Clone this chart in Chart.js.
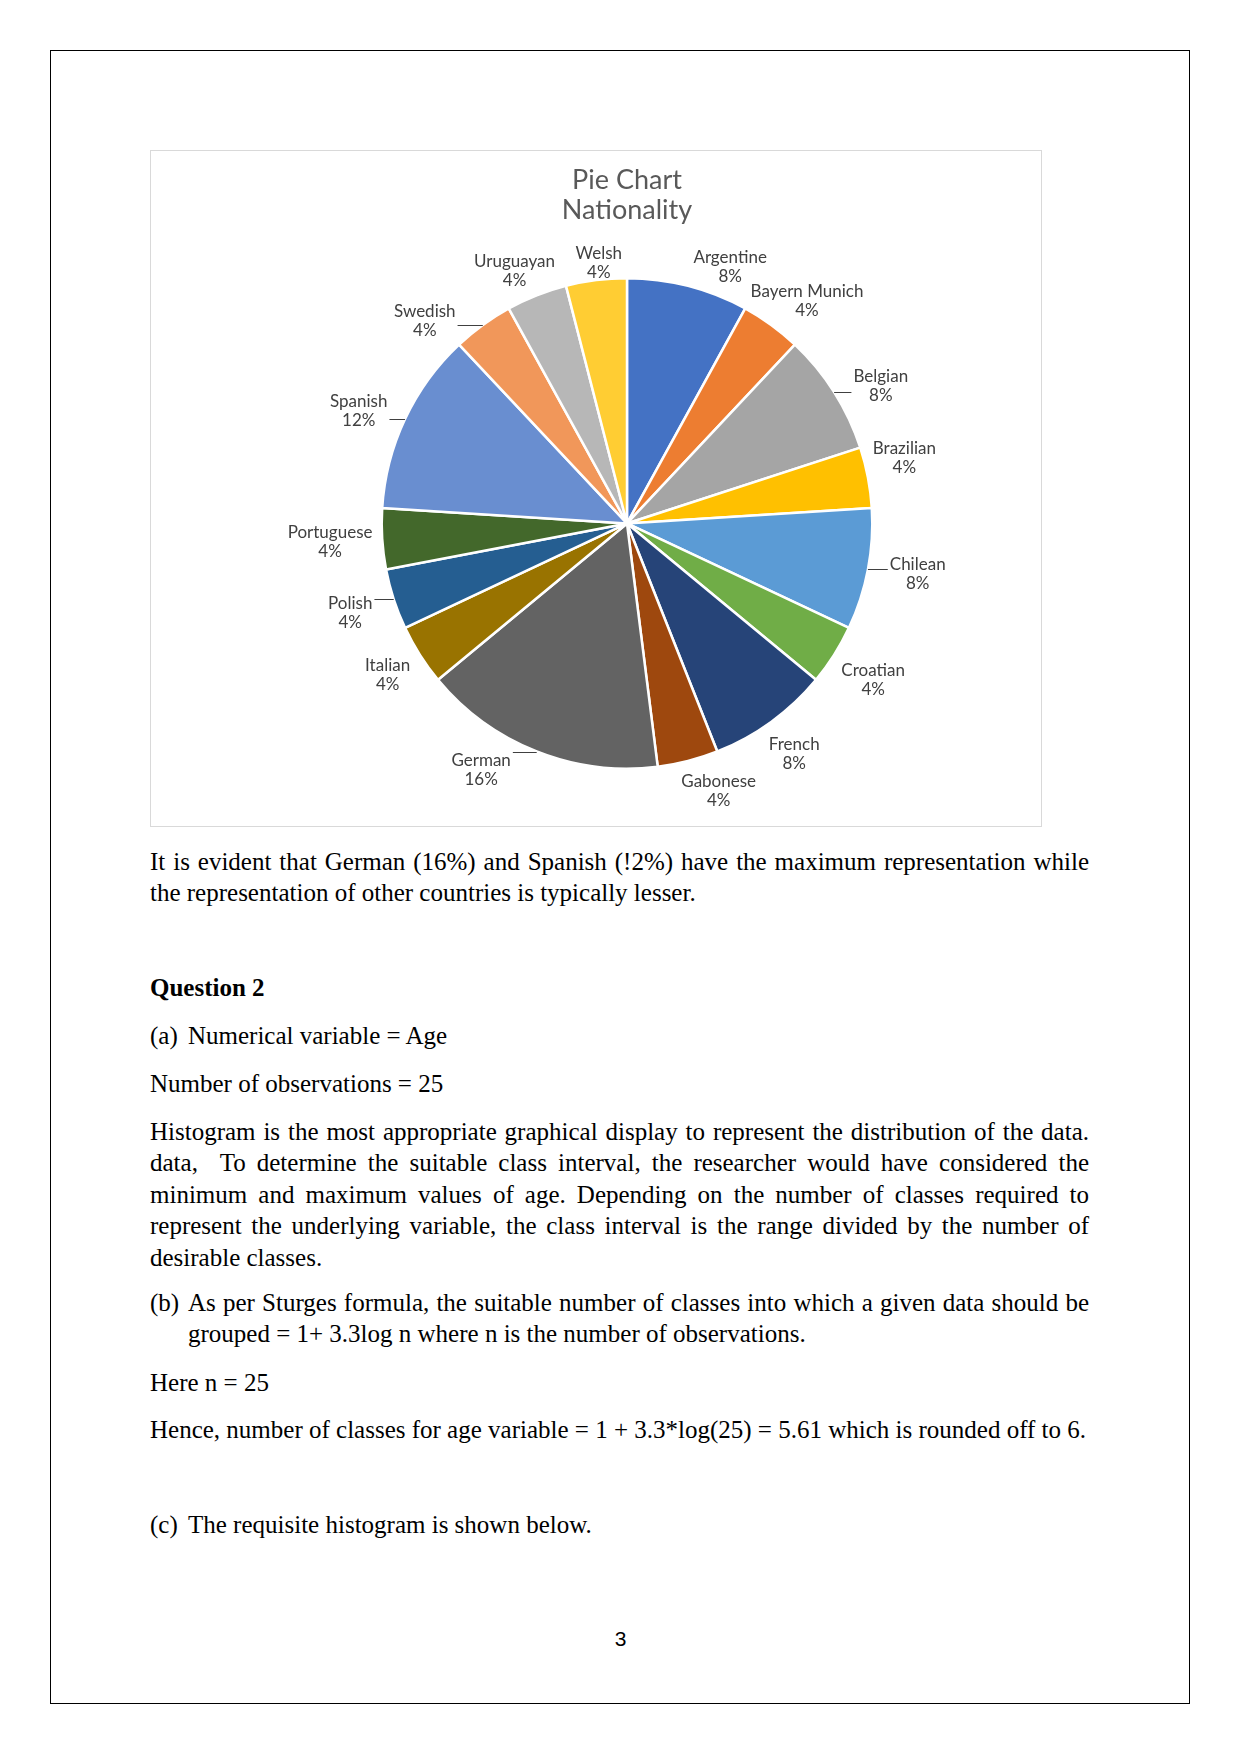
<!DOCTYPE html>
<html>
<head>
<meta charset="utf-8">
<script src="https://cdn.jsdelivr.net/npm/chart.js@4/dist/chart.umd.min.js"></script>
<style>
html, body { margin: 0; padding: 0; background: #fff; }
body { width: 1241px; height: 1754px; position: relative; overflow: hidden;
       font-family: "Liberation Serif", "Times New Roman", serif; font-size: 25px; color: #000; }
.page { position: absolute; left: 50px; top: 50px; width: 1138px; height: 1652px; border: 1px solid #000; }
.chartbox { position: absolute; left: 150px; top: 150px; width: 890px; height: 675px; border: 1px solid #d9d9d9; }
.p { position: absolute; left: 150px; width: 939px; line-height: 31.4px; white-space: nowrap; }
.j { text-align: justify; text-align-last: justify; white-space: normal; }
.ind { position: absolute; left: 188px; width: 901px; line-height: 31.4px; white-space: nowrap; }
.num { position: absolute; left: 0; width: 1241px; top: 1627px; text-align: center;
       font-family: "Liberation Sans", Arial, sans-serif; font-size: 21px; }
</style>
</head>
<body>
<div class="page"></div>
<div class="chartbox"><canvas id="pieChart" width="890" height="675"></canvas></div>

<div class="p" style="top:846px">
  <div class="j">It is evident that German (16%) and Spanish (!2%) have the maximum representation while</div>
  <div>the representation of other countries is typically lesser.</div>
</div>

<div class="p" style="top:972px"><b>Question 2</b></div>

<div class="p" style="top:1020px">(a)</div>
<div class="ind" style="top:1020px">Numerical variable = Age</div>

<div class="p" style="top:1068px">Number of observations = 25</div>

<div class="p" style="top:1116px">
  <div class="j">Histogram is the most appropriate graphical display to represent the distribution of the data.</div>
  <div class="j">data,&nbsp; To determine the suitable class interval, the researcher would have considered the</div>
  <div class="j">minimum and maximum values of age. Depending on the number of classes required to</div>
  <div class="j">represent the underlying variable, the class interval is the range divided by the number of</div>
  <div>desirable classes.</div>
</div>

<div class="p" style="top:1287px">(b)</div>
<div class="ind" style="top:1287px">
  <div class="j">As per Sturges formula, the suitable number of classes into which a given data should be</div>
  <div>grouped = 1+ 3.3log n where n is the number of observations.</div>
</div>

<div class="p" style="top:1367px">Here n = 25</div>

<div class="p" style="top:1414px">Hence, number of classes for age variable = 1 + 3.3*log(25) = 5.61 which is rounded off to 6.</div>

<div class="p" style="top:1509px">(c)</div>
<div class="ind" style="top:1509px">The requisite histogram is shown below.</div>

<div class="num">3</div>

<script>
// respondents per nationality (n = 25), clockwise from 12 o'clock
const nationalities = ['Argentine', 'Bayern Munich', 'Belgian', 'Brazilian', 'Chilean', 'Croatian',
                       'French', 'Gabonese', 'German', 'Italian', 'Polish', 'Portuguese',
                       'Spanish', 'Swedish', 'Uruguayan', 'Welsh'];
const counts = [2, 1, 2, 1, 2, 1, 2, 1, 4, 1, 1, 1, 3, 1, 1, 1];

const sliceColors = ['#4472C4', '#ED7D31', '#A5A5A5', '#FFC000', '#5B9BD5', '#70AD47',
                     '#264478', '#9E480E', '#636363', '#997300', '#255E91', '#43682B',
                     '#698ED0', '#F1975A', '#B7B7B7', '#FFCD33'];

// labels that excel pulled away and tied back with a leader line
const leaderLabels = ['Belgian', 'Chilean', 'German', 'Polish', 'Spanish', 'Swedish'];
// small angle nudges (degrees) for labels excel moved off the slice middle
const labelShift = { 'Argentine': 7.5, 'Bayern Munich': 3, 'Belgian': 4, 'Brazilian': -2.5,
                     'Chilean': -1, 'Gabonese': -4.5, 'German': 9, 'Spanish': -2.4,
                     'Swedish': -9, 'Uruguayan': -2.4, 'Welsh': 1 };
// clearance between rim and text where excel deviates from its usual spacing
const labelGap = { 'Welsh': -4, 'German': 10 };

const labelFont = '17px Lato';
const lineH = 19;

// distance from the pie centre to the nearest of the two text rows
function clearance(px, py, cx, cy, hwName, hwPct) {
    const boxes = [
        [cx - hwName, cx + hwName, cy - lineH, cy],
        [cx - hwPct, cx + hwPct, cy, cy + lineH]
    ];
    let best = Infinity;
    boxes.forEach(([x0, x1, y0, y1]) => {
        const qx = Math.min(Math.max(px, x0), x1);
        const qy = Math.min(Math.max(py, y0), y1);
        best = Math.min(best, Math.hypot(qx - px, qy - py));
    });
    return best;
}

const pieLabels = {
    id: 'pieLabels',
    afterDatasetsDraw(chart) {
        const ctx = chart.ctx;
        const meta = chart.getDatasetMeta(0);
        const total = counts.reduce((a, b) => a + b, 0);

        ctx.save();
        ctx.font = labelFont;
        ctx.fillStyle = '#404040';
        ctx.strokeStyle = '#404040';
        ctx.lineWidth = 1;
        ctx.textAlign = 'center';
        ctx.textBaseline = 'middle';

        meta.data.forEach((arc, i) => {
            const p = arc.getProps(['x', 'y', 'startAngle', 'endAngle', 'outerRadius'], true);
            const name = nationalities[i];
            const pct = Math.round(counts[i] / total * 100) + '%';
            const mid = (p.startAngle + p.endAngle) / 2;
            const a = mid + (labelShift[name] || 0) * Math.PI / 180;
            const ux = Math.cos(a), uy = Math.sin(a);
            const hwName = ctx.measureText(name).width / 2;
            const hwPct = ctx.measureText(pct).width / 2;
            const leader = leaderLabels.includes(name);
            const gap = name in labelGap ? labelGap[name] : (leader ? 19 : 9);

            let d = 0, cx = p.x, cy = p.y;
            while (clearance(p.x, p.y, cx, cy, hwName, hwPct) < p.outerRadius + gap) {
                d += 0.5;
                cx = p.x + d * ux;
                cy = p.y + d * uy;
            }

            ctx.fillText(name, cx, cy - lineH / 2);
            ctx.fillText(pct, cx, cy + lineH / 2);

            if (leader) {
                // horizontal leader from the middle of the slice's rim to the label box
                const ex = p.x + p.outerRadius * Math.cos(mid);
                const ey = Math.round(p.y + p.outerRadius * Math.sin(mid)) + 0.5;
                const side = ux >= 0 ? 1 : -1;
                const nearX = cx - side * (Math.max(hwName, hwPct) + 2);
                if (side * (nearX - ex) > 0) {
                    ctx.beginPath();
                    ctx.moveTo(ex, ey);
                    ctx.lineTo(nearX, ey);
                    ctx.stroke();
                }
            }
        });
        ctx.restore();
    }
};

const chart = new Chart(document.getElementById('pieChart'), {
    type: 'pie',
    data: {
        labels: nationalities,
        datasets: [{
            data: counts,
            backgroundColor: sliceColors,
            borderColor: '#ffffff',
            borderWidth: 2.5
        }]
    },
    options: {
        responsive: false,
        animation: false,
        layout: {
            padding: { top: 0, bottom: 56, left: 200, right: 138 }
        },
        plugins: {
            legend: { display: false },
            tooltip: { enabled: false },
            title: {
                display: true,
                text: ['Pie Chart', 'Nationality'],
                color: '#595959',
                font: { family: 'Lato', size: 27, weight: 'normal', lineHeight: 1.11 },
                padding: { top: 14, bottom: 52 }
            }
        }
    },
    plugins: [pieLabels]
});
</script>
</body>
</html>
